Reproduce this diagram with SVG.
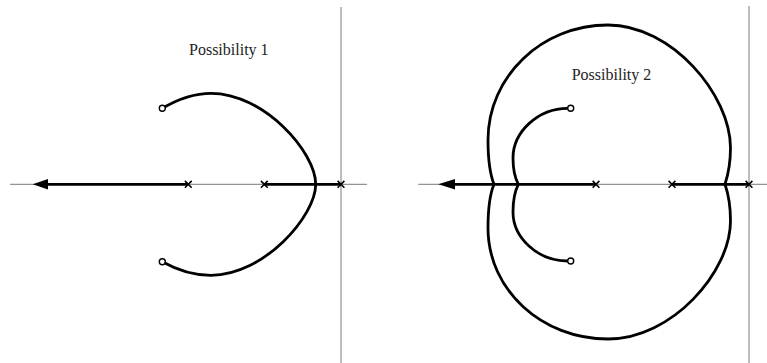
<svg xmlns="http://www.w3.org/2000/svg" width="767" height="363" viewBox="0 0 767 363">
<style>
.axis{stroke:#7a7a7a;stroke-width:1;fill:none}
.loc{stroke:#000;stroke-width:2.8;fill:none}
.pole{stroke:#000;stroke-width:1.6;fill:none}
.zero{stroke:#000;stroke-width:1.4;fill:#fff}
.arrow{fill:#000;stroke:none}
.lbl{font-size:16px;fill:#222}
</style>
<defs>
<path id="x" d="M-3.4,-3.4L3.4,3.4M-3.4,3.4L3.4,-3.4"/>
</defs>
<g id="panel1">
<g id="axes1">
<line class="axis" x1="10" y1="184.3" x2="367" y2="184.3"/>
<line class="axis" x1="341" y1="7" x2="341" y2="363"/>
</g>
<g id="connectors1">
<line class="loc" x1="46" y1="184.3" x2="188.3" y2="184.3"/>
<line class="loc" x1="264.3" y1="184.3" x2="341" y2="184.3"/>
<path class="loc" d="M162.3,108.3 C178,99 194,93.3 211,93.3 C264,93.3 315.7,152 315.7,184.3"/>
<path class="loc" d="M162.3,261.7 C178,270.5 194,275.3 211,275.3 C264,275.3 315.7,216 315.7,184.3"/>
<polygon class="arrow" points="32.7,184.3 48,179 48,189.6"/>
</g>
<g id="poles1">
<use href="#x" class="pole" x="188.3" y="184.3"/>
<use href="#x" class="pole" x="264.3" y="184.3"/>
<use href="#x" class="pole" x="341" y="184.3"/>
</g>
<g id="zeros1">
<circle class="zero" cx="162.3" cy="108.3" r="3"/>
<circle class="zero" cx="162.3" cy="261.7" r="3"/>
</g>
<text id="label1" class="lbl" font-family="'Liberation Serif', 'Times New Roman', serif" x="189" y="55">Possibility 1</text>
</g>
<g id="panel2">
<g id="axes2">
<line class="axis" x1="418.3" y1="184.3" x2="767" y2="184.3"/>
<line class="axis" x1="749" y1="6" x2="749" y2="363"/>
</g>
<g id="connectors2">
<line class="loc" x1="453" y1="184.3" x2="596" y2="184.3"/>
<line class="loc" x1="672" y1="184.3" x2="749" y2="184.3"/>
<path class="loc" d="M494,184.3 C490,174 488,160 488,140 C488,76.5 541.7,25 608,25 C672,25 730.5,95 730.5,148 C730.5,165 728,175 725,184.3"/>
<path class="loc" d="M494,184.3 C490,194 488,208 488,228 C488,290 541.7,339 608,339 C672,339 730.5,272 730.5,221 C730.5,203 728,193 725,184.3"/>
<path class="loc" d="M567.7,108.3 C538,108.3 513,132 513,158 C513,170 515,178 518.3,184.3 C515,191 513,199 513,212 C513,238 538,261 567.7,261"/>
<polygon class="arrow" points="438.3,184.3 455,179 455,189.6"/>
</g>
<g id="poles2">
<use href="#x" class="pole" x="596" y="184.3"/>
<use href="#x" class="pole" x="672" y="184.3"/>
<use href="#x" class="pole" x="749" y="184.3"/>
</g>
<g id="zeros2">
<circle class="zero" cx="570.7" cy="108.3" r="3"/>
<circle class="zero" cx="570.7" cy="261" r="3"/>
</g>
<text id="label2" class="lbl" font-family="'Liberation Serif', 'Times New Roman', serif" x="571.7" y="80">Possibility 2</text>
</g>
</svg>
